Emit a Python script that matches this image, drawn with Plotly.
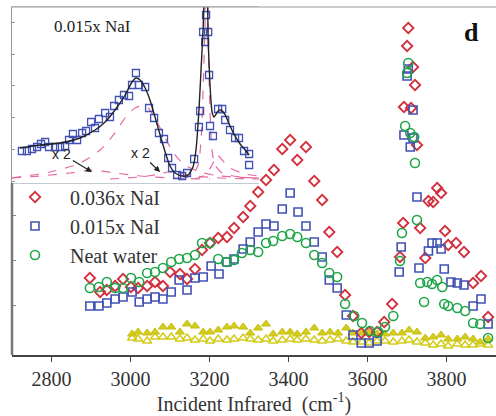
import plotly.graph_objects as go

# ---------------- main panel: SFG intensity (a.u.) vs incident IR ----------------
nai036_x = [2897, 2923, 2940, 2961, 2981, 3001, 3019, 3042, 3062, 3082, 3100, 3125, 3143, 3163,
            3181, 3201, 3222, 3244, 3262, 3285, 3303, 3323, 3343, 3363, 3384, 3404, 3422, 3444,
            3465, 3485, 3503, 3523, 3543, 3563, 3584, 3604, 3624, 3642, 3662, 3682, 3690, 3692,
            3700, 3703, 3710, 3715, 3720, 3725, 3733, 3746, 3754, 3766, 3776, 3786, 3796, 3804,
            3824, 3844, 3867, 3887, 3905]
nai036_y = [77, 63, 65, 69, 76, 68, 67, 69, 73, 69, 83, 81, 76, 86,
            105, 112, 117, 118, 127, 138, 149, 163, 175, 185, 206, 215, 195, 208,
            174, 155, 123, 103, 60, 39, 22, 23, 23, 33, 51, 98, 132, 248,
            309, 327, 247, 288, 270, 210, 127, 97, 154, 153, 167, 162, 124, 110,
            112, 103, 72, 79, 38]

nai015_x = [2897, 2920, 2940, 2961, 2981, 3004, 3022, 3042, 3062, 3082, 3103, 3123, 3143, 3163,
            3184, 3204, 3224, 3244, 3262, 3285, 3303, 3323, 3343, 3363, 3384, 3404, 3424, 3444,
            3465, 3485, 3503, 3523, 3546, 3563, 3584, 3604, 3624, 3680, 3685, 3692, 3700, 3703,
            3708, 3715, 3715, 3725, 3730, 3754, 3763, 3776, 3786, 3794, 3811, 3827, 3844, 3867,
            3887, 3905]
nai015_y = [49, 49, 52, 56, 58, 63, 53, 56, 58, 56, 63, 75, 65, 77,
            78, 89, 81, 93, 96, 106, 113, 123, 131, 129, 146, 162, 143, 129,
            113, 98, 75, 67, 40, 20, 12, 12, 14, 83, 108, 220, 279, 286,
            208, 245, 217, 158, 87, 104, 112, 112, 106, 86, 73, 72, 70, 49,
            56, 31]

water_x = [2897, 2920, 2940, 2961, 2981, 3001, 3022, 3042, 3062, 3082, 3103, 3123, 3143, 3163,
           3181, 3201, 3222, 3242, 3262, 3282, 3303, 3323, 3343, 3361, 3384, 3404, 3422, 3444,
           3465, 3485, 3503, 3523, 3543, 3566, 3586, 3606, 3627, 3644, 3665, 3682, 3687, 3695,
           3700, 3703, 3708, 3718, 3720, 3725, 3733, 3743, 3751, 3763, 3776, 3789, 3794, 3804,
           3827, 3847, 3867, 3885, 3905]
water_y = [67, 68, 73, 67, 67, 77, 73, 82, 83, 87, 93, 96, 97, 100,
           112, 112, 96, 93, 95, 102, 105, 103, 112, 114, 119, 121, 118, 112,
           100, 92, 82, 78, 51, 39, 32, 24, 23, 28, 39, 94, 122, 229,
           282, 292, 222, 218, 192, 135, 72, 53, 73, 71, 75, 68, 51, 49,
           47, 44, 32, 31, 17]

# reference scans near the baseline (filled and open triangles)
ref_x = [3004, 3019, 3042, 3062, 3082, 3103, 3125, 3143, 3163, 3184, 3201, 3222, 3244, 3262,
         3285, 3303, 3323, 3343, 3361, 3384, 3404, 3422, 3444, 3465, 3485, 3505, 3525, 3546,
         3563, 3586, 3604, 3624, 3644, 3665, 3687, 3705, 3725, 3746, 3766, 3786, 3804, 3827,
         3847, 3867, 3885, 3905]
ref_filled_y = [21, 23, 22, 23, 28, 28, 23, 31, 29, 23, 23, 25, 28, 29,
                28, 22, 27, 31, 21, 23, 23, 21, 23, 27, 22, 23, 22, 27,
                22, 22, 22, 21, 21, 22, 22, 25, 23, 17, 18, 20, 16, 16,
                18, 16, 13, 16]
ref_open_y = [17, 16, 14, 18, 18, 18, 16, 17, 15, 16, 14, 16, 15, 16,
              17, 16, 15, 16, 14, 15, 16, 15, 16, 15, 14, 15, 16, 14,
              13, 13, 12, 14, 14, 13, 14, 15, 13, 12, 10, 11, 9, 11,
              10, 10, 11, 10]

# ---------------- inset: 0.015x NaI spectrum with its fit ----------------
inset_x = [2908, 2930, 2952, 2974, 2991, 3009, 3026, 3052, 3074, 3096, 3113, 3130, 3148, 3170,
           3187, 3209, 3226, 3243, 3270, 3291, 3309, 3330, 3352, 3374, 3387, 3404, 3417, 3444,
           3461, 3483, 3504, 3526, 3544, 3561, 3583, 3605, 3626, 3657, 3678, 3683, 3696, 3705,
           3709, 3718, 3722, 3726, 3739, 3761, 3779, 3792, 3813, 3835, 3852, 3874, 3896, 3896]
inset_y = [32, 32, 34, 36, 39, 41, 36, 36, 36, 37, 43, 49, 43, 50,
           52, 61, 55, 64, 70, 66, 77, 83, 88, 87, 98, 110, 98, 96,
           75, 65, 50, 44, 25, 15, 8, 7, 10, 24, 56, 72, 151, 141,
           168, 151, 108, 57, 47, 74, 74, 63, 53, 45, 45, 32, 29, 18]

fit_x = [2900, 2987, 3074, 3161, 3226, 3270, 3313, 3357, 3387, 3404, 3422, 3444, 3465, 3487,
         3509, 3531, 3552, 3574, 3605, 3631, 3652, 3665, 3678, 3687, 3696, 3705, 3711, 3718,
         3726, 3735, 3744, 3761, 3774, 3792, 3813, 3835, 3857, 3879, 3896]
fit_y = [35, 38, 40, 45, 53, 61, 73, 88, 101, 105, 103, 95, 83, 66,
         48, 31, 17, 10, 7, 8, 16, 33, 73, 113, 153, 193, 193, 143,
         98, 71, 66, 72, 73, 68, 57, 47, 39, 33, 28]

# resonance components of the fit (dashed)
band_h_x = [2865, 3030, 3161, 3248, 3313, 3357, 3400, 3431, 3457, 3487, 3531, 3574, 3618, 3683, 3770, 3939]
band_h_y = [5, 11, 20, 33, 50, 65, 75, 77, 75, 65, 45, 28, 18, 11, 7, 5]
band_lo_x = [2865, 2987, 3117, 3213, 3313, 3422, 3552, 3726]
band_lo_y = [5, 7, 10, 13, 10, 7, 5, 4]
band_mid_x = [3291, 3422, 3509, 3544, 3587, 3661, 3770, 3939]
band_mid_y = [4, 6, 9, 11, 10, 7, 5, 4]
band_free_x = [3596, 3648, 3674, 3687, 3696, 3705, 3709, 3713, 3718, 3726, 3735, 3748, 3779, 3857, 3939]
band_free_y = [4, 8, 18, 43, 93, 163, 193, 193, 143, 73, 33, 18, 10, 6, 5]
band_sh_x = [3661, 3705, 3735, 3757, 3779, 3813, 3879, 3939]
band_sh_y = [4, 8, 18, 28, 23, 15, 9, 7]

RED = "#d2303e"
BLUE = "#4152b4"
GREEN = "#1fa548"
YELLOW = "#d4cc1c"
PINK = "#e46aa4"
SERIF = "Liberation Serif, Times New Roman, serif"

fig = go.Figure()

# baseline reference scans
fig.add_trace(go.Scatter(x=ref_x, y=ref_open_y, mode="markers", showlegend=False,
                         marker=dict(symbol="triangle-up-open", size=8, color=YELLOW,
                                     line=dict(width=1.5, color=YELLOW))))
fig.add_trace(go.Scatter(x=ref_x, y=ref_filled_y, mode="markers", showlegend=False,
                         marker=dict(symbol="triangle-up", size=8, color=YELLOW,
                                     line=dict(width=1, color="#c8c010"))))

fig.add_trace(go.Scatter(x=nai036_x, y=nai036_y, mode="markers", name="0.036x NaI",
                         marker=dict(symbol="diamond-open", size=8, color=RED,
                                     line=dict(width=1.8, color=RED))))
fig.add_trace(go.Scatter(x=nai015_x, y=nai015_y, mode="markers", name="0.015x NaI",
                         marker=dict(symbol="square-open", size=8, color=BLUE,
                                     line=dict(width=1.6, color=BLUE))))
fig.add_trace(go.Scatter(x=water_x, y=water_y, mode="markers", name="Neat water",
                         marker=dict(symbol="circle-open", size=9, color=GREEN,
                                     line=dict(width=1.6, color=GREEN))))

# inset components and fit
for bx, by in [(band_lo_x, band_lo_y), (band_mid_x, band_mid_y), (band_h_x, band_h_y),
               (band_sh_x, band_sh_y), (band_free_x, band_free_y)]:
    fig.add_trace(go.Scatter(x=bx, y=by, xaxis="x2", yaxis="y2", mode="lines", showlegend=False,
                             line=dict(color=PINK, width=1.2, dash="dash", shape="spline",
                                       smoothing=0.8)))
fig.add_trace(go.Scatter(x=inset_x, y=inset_y, xaxis="x2", yaxis="y2", mode="markers",
                         showlegend=False,
                         marker=dict(symbol="square-open", size=7, color=BLUE,
                                     line=dict(width=1.3, color=BLUE))))
fig.add_trace(go.Scatter(x=fit_x, y=fit_y, xaxis="x2", yaxis="y2", mode="lines", showlegend=False,
                         line=dict(color="#222222", width=1.4, shape="spline", smoothing=0.6)))

fig.update_layout(
    width=496, height=416,
    margin=dict(l=12, r=0, t=7, b=61),
    paper_bgcolor="white", plot_bgcolor="white",
    font=dict(family=SERIF, color="#222222"),
    xaxis=dict(range=[2700, 3925], tick0=2800, dtick=200, ticks="outside", ticklen=5,
               tickcolor="#444", showline=True, linecolor="#444", linewidth=1.5,
               showgrid=False, zeroline=False, tickfont=dict(size=20, family=SERIF, color="#333"),
               title=dict(text="Incident Infrared  (cm<sup>-1</sup>)",
                          font=dict(size=20, family=SERIF, color="#333"), standoff=8)),
    yaxis=dict(range=[0, 348], showline=False, showgrid=False, zeroline=False,
               showticklabels=False, ticks="inside", ticklen=4, tickcolor="#888",
               tickvals=[50, 95, 140]),
    xaxis2=dict(domain=[0, 0.5103], anchor="y2", range=[2865, 3939], showgrid=False,
                zeroline=False, showticklabels=False, ticks="", showline=True,
                linecolor="#c4cad2", linewidth=1, mirror=True),
    yaxis2=dict(domain=[0.4943, 1], anchor="x2", range=[0, 176], showgrid=False,
                zeroline=False, showticklabels=False, ticks="inside", ticklen=3,
                tickcolor="#999", tick0=1, dtick=32, showline=True, linecolor="#999",
                linewidth=1),
    legend=dict(x=-0.025, y=0.51, xanchor="left", yanchor="top", bgcolor="rgba(0,0,0,0)",
                itemwidth=60, font=dict(size=20, family=SERIF, color="#333"),
                tracegroupgap=0),
    showlegend=True,
)

# frame: top border and heavy lower part of the left axis
fig.add_shape(type="line", xref="paper", yref="paper", x0=0, x1=1, y0=1, y1=1,
              line=dict(color="#999", width=1))
fig.add_shape(type="line", xref="paper", yref="paper", x0=0, x1=0, y0=0, y1=0.4943,
              line=dict(color="#777", width=2.5))

fig.add_annotation(x=3213, y=157, xref="x2", yref="y2", text="0.015x NaI", showarrow=False,
                   font=dict(size=17, family=SERIF, color="#222"))
fig.add_annotation(x=0.97, y=0.975, xref="paper", yref="paper", text="<b>d</b>",
                   showarrow=False, font=dict(size=26, family=SERIF, color="#111"))

# "x 2" magnification labels, each with an arrow to its (doubled) band
for tx, ty, hx, hy in [(3082, 29, 3213, 11), (3422, 30, 3509, 11)]:
    fig.add_annotation(x=hx, y=hy, ax=tx, ay=ty, xref="x2", yref="y2", axref="x2", ayref="y2",
                       text="x 2", showarrow=True, arrowhead=2, arrowsize=1, arrowwidth=1.2,
                       arrowcolor="#222",
                       font=dict(size=14, family="Liberation Sans, Arial", color="#222"))

fig.write_html("out.html")
